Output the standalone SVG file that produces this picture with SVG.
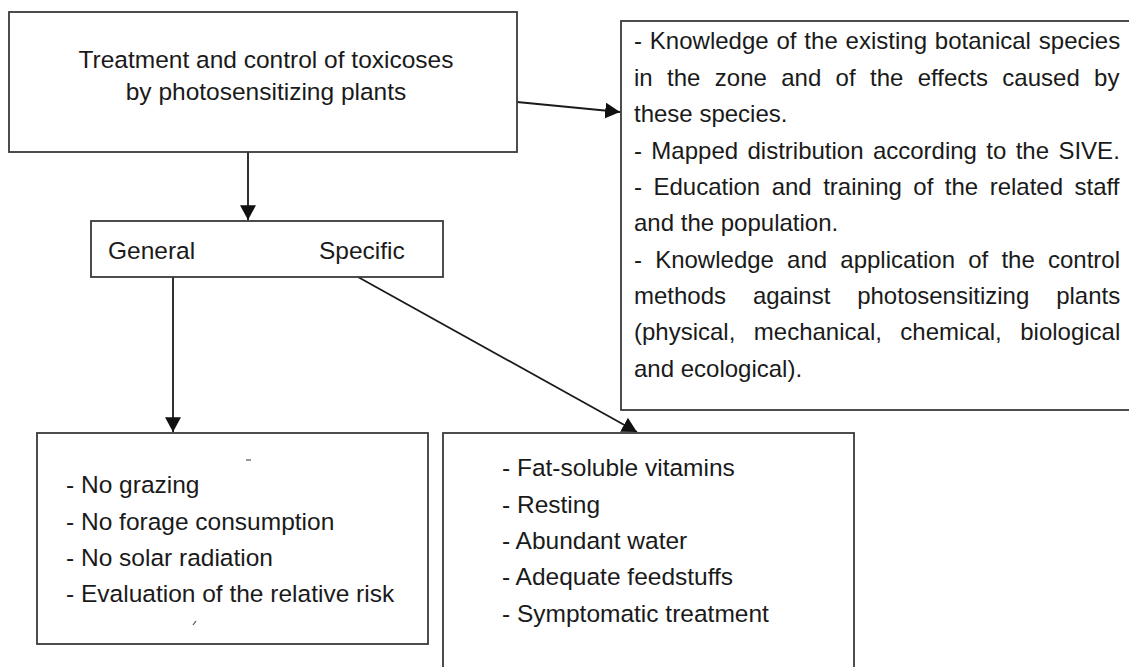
<svg xmlns="http://www.w3.org/2000/svg" width="1129" height="667" viewBox="0 0 1129 667">
  <style>
    .box { fill: #ffffff; stroke: #3a3a3a; stroke-width: 1.8; }
    .t { font-family: "Liberation Sans", Arial, sans-serif; font-size: 24.5px; fill: #1a1a1a; }
    .tr { font-family: "Liberation Sans", Arial, sans-serif; font-size: 24px; fill: #1a1a1a; }
    .conn { stroke: #1a1a1a; stroke-width: 1.8; fill: none; marker-end: url(#arrow); }
    .speck { stroke: #555; stroke-width: 1.2; }
  </style>
  <defs>
    <marker id="arrow" markerUnits="userSpaceOnUse" markerWidth="16" markerHeight="16" viewBox="0 0 14 14" refX="13" refY="7" orient="auto">
      <path d="M0,0 L13,7 L0,14 Z" fill="#111"/>
    </marker>
  </defs>
  <rect width="1129" height="667" fill="#ffffff"/>

  <g id="connectors">
    <line class="conn" x1="248" y1="152" x2="248" y2="220"/>
    <line class="conn" x1="517" y1="102" x2="620" y2="112"/>
    <line class="conn" x1="173" y1="277" x2="173" y2="432"/>
    <line class="conn" x1="358" y1="277" x2="637" y2="432"/>
  </g>

  <g id="node-treatment">
    <rect class="box" x="9" y="12" width="508" height="140"/>
    <text class="t" x="266" y="68" text-anchor="middle">Treatment and control of toxicoses</text>
    <text class="t" x="266" y="100" text-anchor="middle">by photosensitizing plants</text>
  </g>

  <g id="node-general-specific">
    <rect class="box" x="91" y="221" width="352" height="56"/>
    <text class="t" x="108" y="259">General</text>
    <text class="t" x="319" y="259">Specific</text>
  </g>

  <g id="node-control">
    <rect class="box" x="621" y="21" width="520" height="389"/>
    <text class="tr" x="634" y="49" word-spacing="1.2">- Knowledge of the existing botanical species</text>
    <text class="tr" x="634" y="85.5" word-spacing="7.7">in the zone and of the effects caused by</text>
    <text class="tr" x="634" y="122">these species.</text>
    <text class="tr" x="634" y="158.5" word-spacing="2.7">- Mapped distribution according to the SIVE.</text>
    <text class="tr" x="634" y="195" word-spacing="4.8">- Education and training of the related staff</text>
    <text class="tr" x="634" y="231">and the population.</text>
    <text class="tr" x="634" y="267.5" word-spacing="6.5">- Knowledge and application of the control</text>
    <text class="tr" x="634" y="304" word-spacing="20.2">methods against photosensitizing plants</text>
    <text class="tr" x="634" y="340" word-spacing="11.8">(physical, mechanical, chemical, biological</text>
    <text class="tr" x="634" y="376.5">and ecological).</text>
  </g>

  <g id="node-general-measures">
    <rect class="box" x="37" y="433" width="391" height="211"/>
    <line class="speck" x1="246" y1="460" x2="251" y2="460"/>
    <line class="speck" x1="193" y1="625" x2="196" y2="621"/>
    <text class="t" x="66" y="493">- No grazing</text>
    <text class="t" x="66" y="530">- No forage consumption</text>
    <text class="t" x="66" y="566">- No solar radiation</text>
    <text class="t" x="66" y="602">- Evaluation of the relative risk</text>
  </g>

  <g id="node-specific-measures">
    <rect class="box" x="443" y="433" width="411" height="250"/>
    <text class="t" x="502" y="476">- Fat-soluble vitamins</text>
    <text class="t" x="502" y="513">- Resting</text>
    <text class="t" x="502" y="549">- Abundant water</text>
    <text class="t" x="502" y="585">- Adequate feedstuffs</text>
    <text class="t" x="502" y="622">- Symptomatic treatment</text>
  </g>
</svg>
